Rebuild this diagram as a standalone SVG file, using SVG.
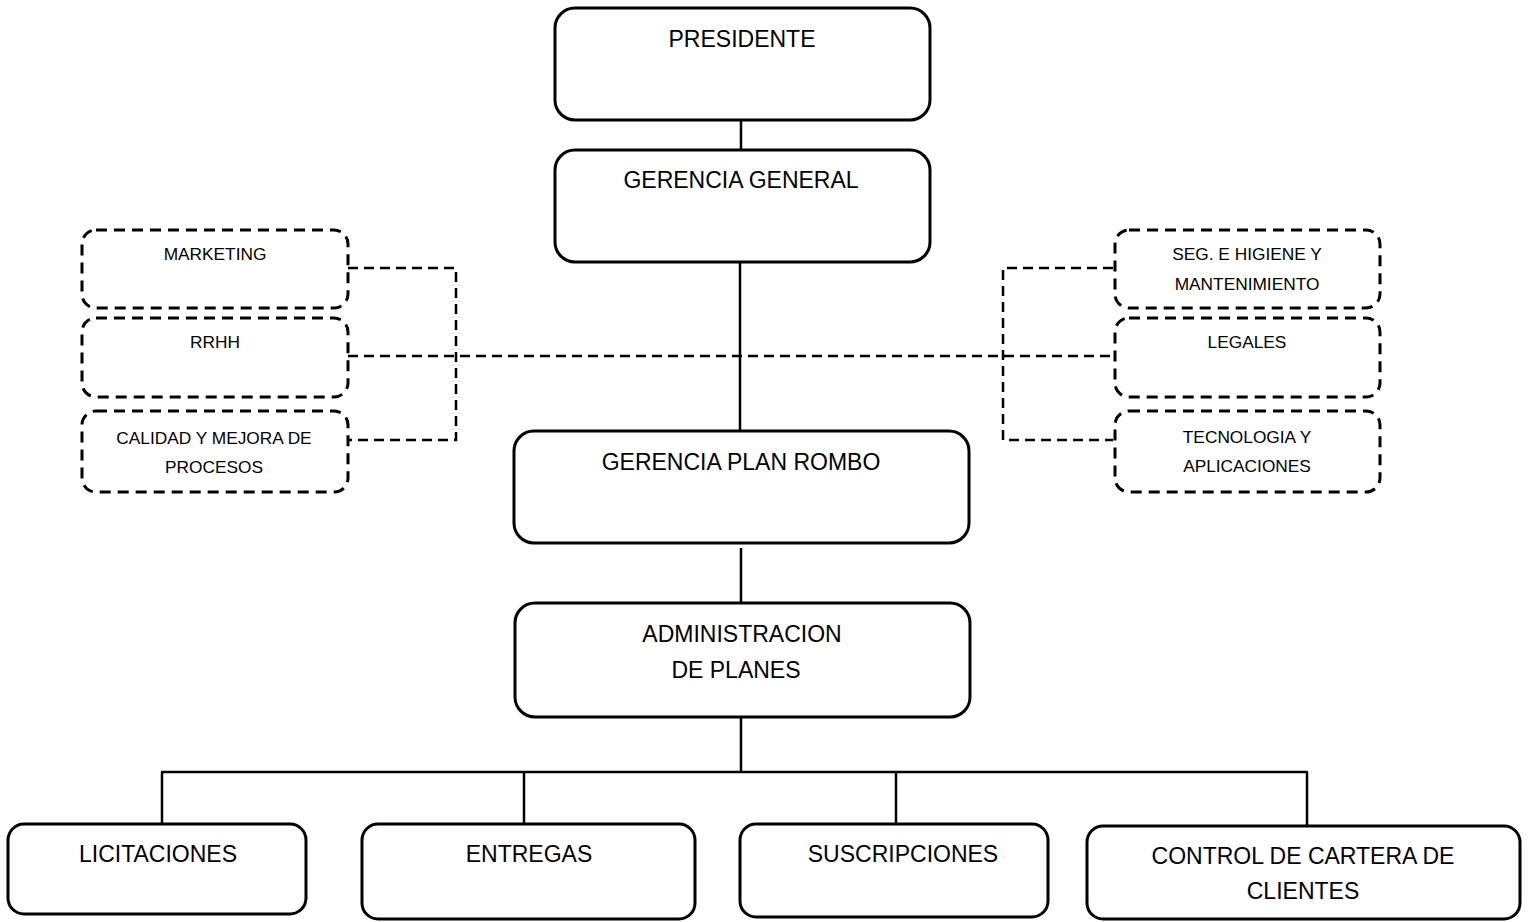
<svg xmlns="http://www.w3.org/2000/svg" width="1531" height="922" viewBox="0 0 1531 922">
  <style>
    .box { fill: #ffffff; stroke: #000000; stroke-width: 3; }
    .dbox { fill: #ffffff; stroke: #000000; stroke-width: 3; stroke-dasharray: 11 7; }
    .line { fill: none; stroke: #000000; stroke-width: 2.5; }
    .dline { fill: none; stroke: #000000; stroke-width: 2.5; stroke-dasharray: 10 6; }
    .lbl { font-family: "Liberation Sans", Arial, sans-serif; font-size: 23px; fill: #000000; text-anchor: middle; }
    .sm { font-family: "Liberation Sans", Arial, sans-serif; font-size: 17.3px; fill: #000000; text-anchor: middle; }
  </style>
  <rect width="1531" height="922" fill="#ffffff"/>

  <!-- connectors -->
  <g id="connectors">
    <line class="line" x1="741" y1="120" x2="741" y2="150"/>
    <line class="line" x1="740" y1="262" x2="740" y2="431"/>
    <line class="line" x1="741" y1="548" x2="741" y2="603"/>
    <line class="line" x1="741" y1="717" x2="741" y2="772"/>
    <line class="line" x1="161" y1="772" x2="1308" y2="772"/>
    <line class="line" x1="162" y1="772" x2="162" y2="825"/>
    <line class="line" x1="524" y1="772" x2="524" y2="825"/>
    <line class="line" x1="896" y1="772" x2="896" y2="825"/>
    <line class="line" x1="1307" y1="772" x2="1307" y2="826"/>
    <!-- staff units, left -->
    <polyline class="dline" points="348,268 456,268 456,440 348,440"/>
    <!-- cross link between staff groups -->
    <line class="dline" x1="348" y1="356" x2="1113" y2="356"/>
    <!-- staff units, right -->
    <polyline class="dline" points="1113,268 1003,268 1003,440 1113,440"/>
  </g>

  <g id="presidente">
    <rect class="box" x="555" y="8" width="375" height="112" rx="20"/>
    <text class="lbl" x="742" y="47">PRESIDENTE</text>
  </g>
  <g id="gerencia-general">
    <rect class="box" x="555" y="150" width="375" height="112" rx="20"/>
    <text class="lbl" x="741" y="188">GERENCIA GENERAL</text>
  </g>
  <g id="gerencia-plan-rombo">
    <rect class="box" x="514" y="431" width="455" height="112" rx="20"/>
    <text class="lbl" x="741" y="470">GERENCIA PLAN ROMBO</text>
  </g>
  <g id="administracion">
    <rect class="box" x="515" y="603" width="455" height="114" rx="20"/>
    <text class="lbl" x="742" y="642">ADMINISTRACION</text>
    <text class="lbl" x="736" y="678">DE PLANES</text>
  </g>

  <g id="marketing">
    <rect class="dbox" x="82" y="230" width="266" height="78" rx="14"/>
    <text class="sm" x="215" y="260">MARKETING</text>
  </g>
  <g id="rrhh">
    <rect class="dbox" x="82" y="318" width="266" height="79" rx="14"/>
    <text class="sm" x="215" y="348">RRHH</text>
  </g>
  <g id="calidad">
    <rect class="dbox" x="82" y="411" width="266" height="81" rx="14"/>
    <text class="sm" x="214" y="444">CALIDAD Y MEJORA DE</text>
    <text class="sm" x="214" y="473">PROCESOS</text>
  </g>

  <g id="seguridad">
    <rect class="dbox" x="1115" y="230" width="265" height="78" rx="14"/>
    <text class="sm" x="1247" y="260">SEG. E HIGIENE Y</text>
    <text class="sm" x="1247" y="290">MANTENIMIENTO</text>
  </g>
  <g id="legales">
    <rect class="dbox" x="1115" y="318" width="265" height="79" rx="14"/>
    <text class="sm" x="1247" y="348">LEGALES</text>
  </g>
  <g id="tecnologia">
    <rect class="dbox" x="1115" y="411" width="265" height="81" rx="14"/>
    <text class="sm" x="1247" y="443">TECNOLOGIA Y</text>
    <text class="sm" x="1247" y="472">APLICACIONES</text>
  </g>

  <g id="licitaciones">
    <rect class="box" x="8" y="824" width="298" height="90" rx="16"/>
    <text class="lbl" x="158" y="862">LICITACIONES</text>
  </g>
  <g id="entregas">
    <rect class="box" x="362" y="824" width="333" height="95" rx="16"/>
    <text class="lbl" x="529" y="862">ENTREGAS</text>
  </g>
  <g id="suscripciones">
    <rect class="box" x="740" y="824" width="308" height="93" rx="16"/>
    <text class="lbl" x="903" y="862">SUSCRIPCIONES</text>
  </g>
  <g id="control-cartera">
    <rect class="box" x="1087" y="826" width="433" height="93" rx="16"/>
    <text class="lbl" x="1303" y="864">CONTROL DE CARTERA DE</text>
    <text class="lbl" x="1303" y="899">CLIENTES</text>
  </g>
</svg>
